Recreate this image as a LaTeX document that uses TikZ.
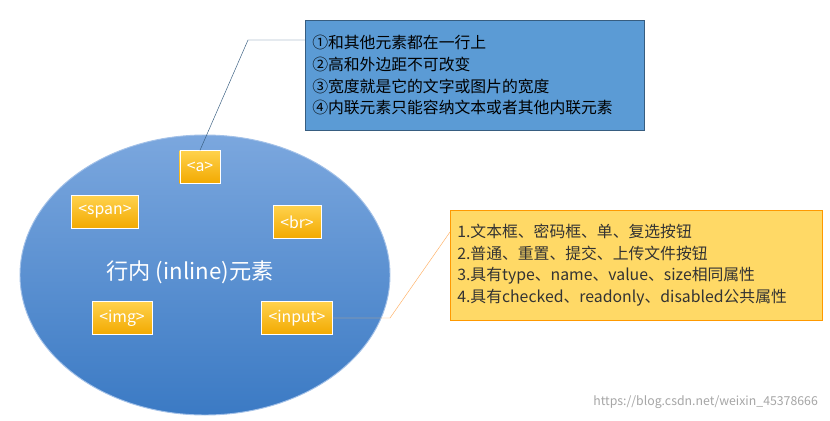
\documentclass[tikz,border=0pt]{standalone}
\usepackage{fontspec}
\setmainfont{Noto Sans CJK SC}
\usetikzlibrary{positioning,shapes.geometric}
\definecolor{elltop}{HTML}{7BA7DE}
\definecolor{ellbot}{HTML}{3B7AC4}
\definecolor{tagtop}{HTML}{FFD24D}
\definecolor{tagbot}{HTML}{F2A900}
\definecolor{notebl}{HTML}{5B9BD5}
\definecolor{noteye}{HTML}{FFD966}
\begin{document}
\begin{tikzpicture}[x=0.03cm, y=-0.03cm,
  tag/.style={draw=white, top color=tagtop, bottom color=tagbot, text=white, font=\fontsize{13.5}{15}\selectfont, inner sep=6pt, minimum height=33*0.03cm},
  note/.style={draw, align=left, anchor=north west, font=\fontsize{13.5}{18.5}\selectfont, inner sep=6pt}]
	\useasboundingbox (0,0) rectangle (830,421);
	\fill[white] (0,0) rectangle (830,421);
	\node[ellipse, draw=elltop!70!white, thick, top color=elltop, bottom color=ellbot, minimum width=370*0.03cm, minimum height=280*0.03cm] (E) at (205,275) {};
	\node[text=white, font=\fontsize{19}{22}\selectfont] (T) at (190,272) {行内 (inline)元素};
	\node[tag] (A) at (200,167) {<a>};
	\node[tag] (S) at (105,212) {<span>};
	\node[tag] (B) at (297,222) {<br>};
	\node[tag] (I) at (122,318) {<img>};
	\node[tag] (N) at (297,318) {<input>};
	\node[note, fill=notebl, draw=notebl!60!black, text width=325*0.03cm, minimum height=110*0.03cm] (P) at (305,20) {①和其他元素都在一行上\\②高和外边距不可改变\\③宽度就是它的文字或图片的宽度\\④内联元素只能容纳文本或者其他内联元素};
	\node[note, fill=noteye, draw=orange!80!yellow, text=black!80, text width=358*0.03cm, minimum height=110*0.03cm] (Q) at (450,210) {1.文本框、密码框、单、复选按钮\\2.普通、重置、提交、上传文件按钮\\3.具有type、name、value、size相同属性\\4.具有checked、readonly、disabled公共属性};
	\coordinate (p1) at (248,40);
	\coordinate (q1) at (390,318);
	\draw[notebl!60!black] (P.north west |- p1) -- (p1) -- (A.north);
	\draw[orange!60] (Q.west |- 0,232) -- (q1) -- (N.east);
	\node[text=gray!70, font=\fontsize{10.5}{12}\selectfont, anchor=east] (W) at (822,402) {https://blog.csdn.net/weixin\_45378666};
\end{tikzpicture}
\end{document}
